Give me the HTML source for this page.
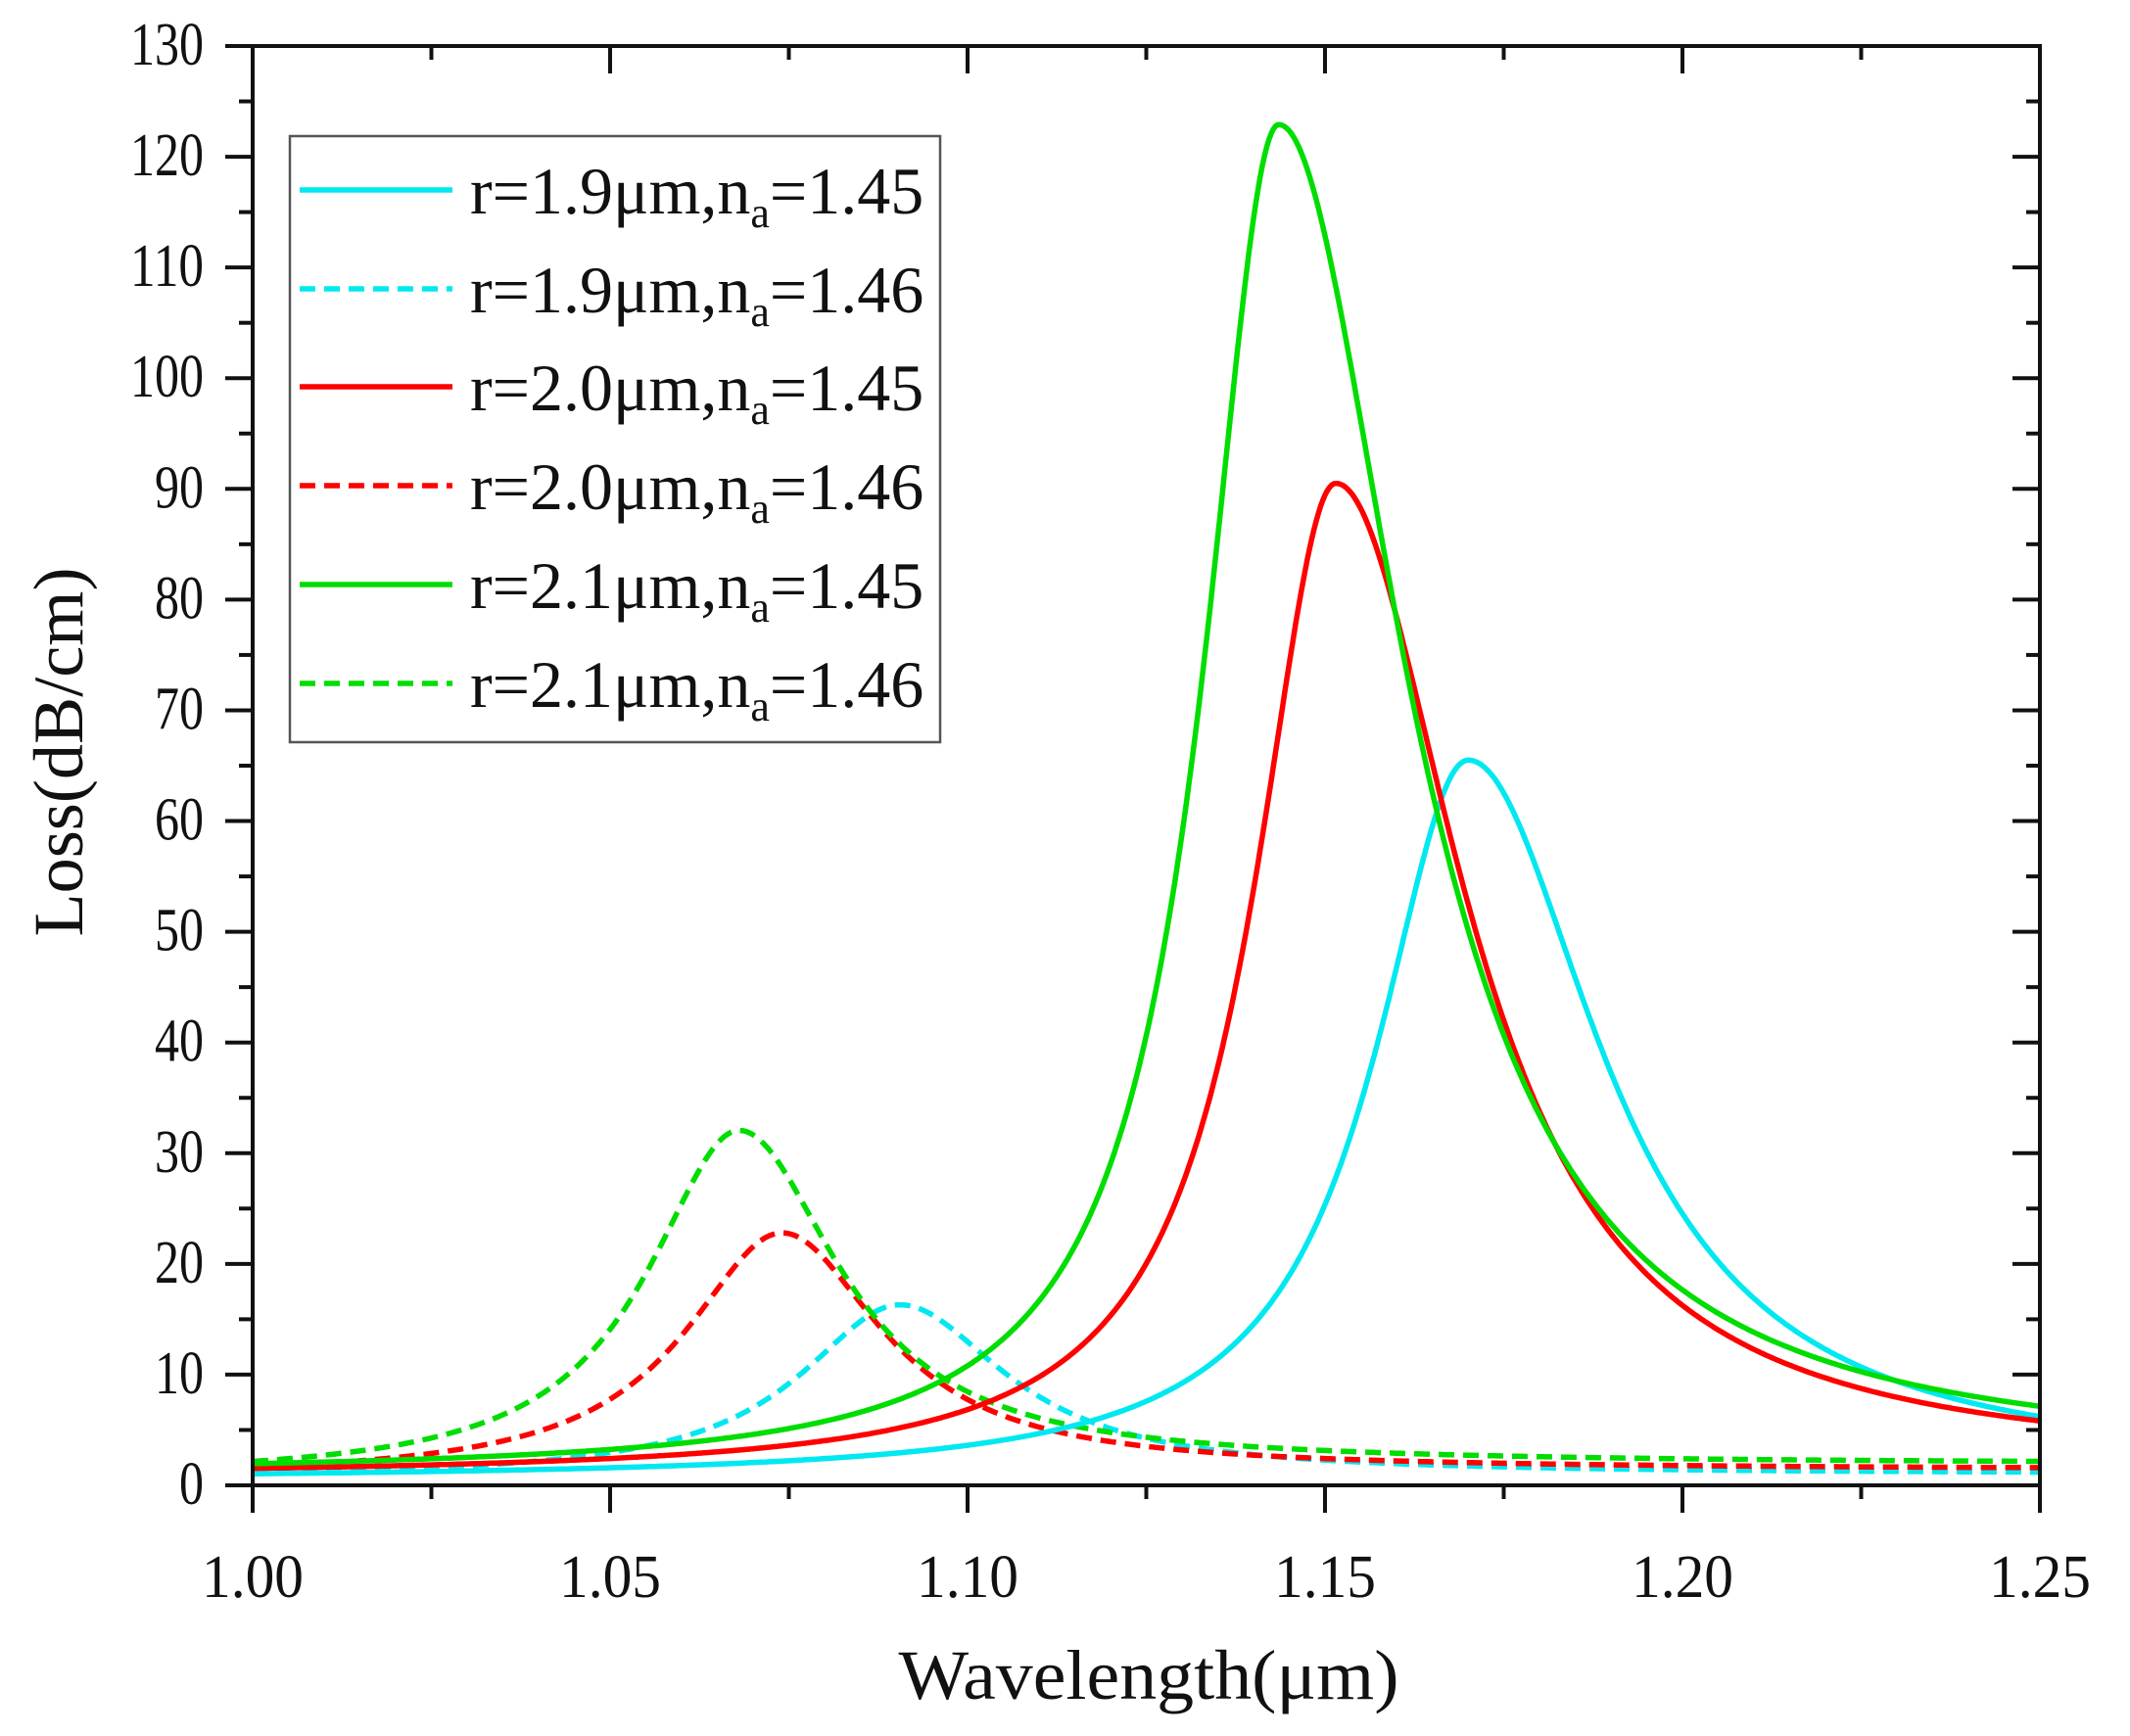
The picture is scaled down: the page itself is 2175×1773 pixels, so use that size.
<!DOCTYPE html>
<html><head><meta charset="utf-8"><style>
html,body{margin:0;padding:0;background:#fff}
svg{display:block}
text{font-family:"Liberation Serif",serif;fill:#111}
</style></head><body>
<svg id="s" width="2175" height="1773" viewBox="0 0 2175 1773" xmlns="http://www.w3.org/2000/svg">
<g id="curves" fill="none" stroke-width="5.5" stroke-linejoin="round"></g>
<g id="axes" stroke="#111" stroke-width="4" fill="none"></g>
<g id="labels"></g>
<rect x="296" y="139" width="664" height="619" fill="#fff" stroke="#555" stroke-width="2.5"/>
<g stroke-width="5.5">
<line x1="306" y1="194" x2="462" y2="194" stroke="#00e8f0"/>
<line x1="306" y1="295" x2="462" y2="295" stroke="#00e8f0" stroke-dasharray="16 9"/>
<line x1="306" y1="395" x2="462" y2="395" stroke="#ff0000"/>
<line x1="306" y1="496" x2="462" y2="496" stroke="#ff0000" stroke-dasharray="16 9"/>
<line x1="306" y1="597" x2="462" y2="597" stroke="#00dd00"/>
<line x1="306" y1="698" x2="462" y2="698" stroke="#00dd00" stroke-dasharray="16 9"/>
</g>
<g font-size="68">
<text x="480" y="218">r=1.9μm,n<tspan font-size="44" dy="14">a</tspan><tspan dy="-14">=1.45</tspan></text>
<text x="480" y="319">r=1.9μm,n<tspan font-size="44" dy="14">a</tspan><tspan dy="-14">=1.46</tspan></text>
<text x="480" y="419">r=2.0μm,n<tspan font-size="44" dy="14">a</tspan><tspan dy="-14">=1.45</tspan></text>
<text x="480" y="520">r=2.0μm,n<tspan font-size="44" dy="14">a</tspan><tspan dy="-14">=1.46</tspan></text>
<text x="480" y="621">r=2.1μm,n<tspan font-size="44" dy="14">a</tspan><tspan dy="-14">=1.45</tspan></text>
<text x="480" y="722">r=2.1μm,n<tspan font-size="44" dy="14">a</tspan><tspan dy="-14">=1.46</tspan></text>
</g>
<text x="1173" y="1735" font-size="72" text-anchor="middle" textLength="511" lengthAdjust="spacingAndGlyphs">Wavelength(μm)</text>
<text transform="translate(84,768) rotate(-90)" font-size="72" text-anchor="middle" textLength="377" lengthAdjust="spacingAndGlyphs">Loss(dB/cm)</text>
</svg>
<script>
var X0=258,X1=2083,Y0=1517,Y1=47;
function px(x){return X0+(x-1.0)/0.25*(X1-X0);}
function py(y){return Y0-y/130*(Y0-Y1);}
function L(x,s){var w=x<s.c?s.wl:s.wr;var sg=1/(1+Math.exp(-(x-s.c)/0.02));var b=s.bl+(s.br-s.bl)*sg;var t=(x-s.c)/w;return b+(s.A)/(1+t*t);}
var series=[
 {c:1.0905,A:15.5,wl:0.017,wr:0.018,bl:0.6,br:1.0,col:"#00e8f0",d:1},
 {c:1.074,A:21.8,wl:0.0165,wr:0.017,bl:0.6,br:1.4,col:"#ff0000",d:1},
 {c:1.068,A:30.8,wl:0.0155,wr:0.017,bl:0.6,br:1.9,col:"#00dd00",d:1},
 {c:1.170,A:64.5,wl:0.0157,wr:0.0225,bl:0.5,br:1.5,col:"#00e8f0",d:0},
 {c:1.1515,A:89.2,wl:0.0138,wr:0.0214,bl:0.8,br:1.8,col:"#ff0000",d:0},
 {c:1.1435,A:121.2,wl:0.0128,wr:0.0215,bl:1.0,br:2.4,col:"#00dd00",d:0}
];
var g=document.getElementById("curves"),NS="http://www.w3.org/2000/svg";
series.forEach(function(s){
 var d="";for(var i=0;i<=800;i++){var x=1+0.25*i/800;d+=(i?"L":"M")+px(x).toFixed(1)+","+py(L(x,s)).toFixed(1);}
 var p=document.createElementNS(NS,"path");p.setAttribute("d",d);p.setAttribute("stroke",s.col);
 if(s.d)p.setAttribute("stroke-dasharray","16 9");g.appendChild(p);
});
var a=document.getElementById("axes"),lb=document.getElementById("labels");
function ln(x1,y1,x2,y2){var l=document.createElementNS(NS,"line");l.setAttribute("x1",x1);l.setAttribute("y1",y1);l.setAttribute("x2",x2);l.setAttribute("y2",y2);a.appendChild(l);}
function tx(x,y,s,anc,len){var t=document.createElementNS(NS,"text");t.setAttribute("x",x);t.setAttribute("y",y);t.setAttribute("font-size","62");t.setAttribute("text-anchor",anc);t.setAttribute("textLength",len);t.setAttribute("lengthAdjust","spacingAndGlyphs");t.textContent=s;lb.appendChild(t);}
var r=document.createElementNS(NS,"rect");r.setAttribute("x",X0);r.setAttribute("y",Y1);r.setAttribute("width",X1-X0);r.setAttribute("height",Y0-Y1);a.appendChild(r);
for(var v=0;v<=130;v+=5){var y=py(v);var maj=v%10==0;var L1=maj?28:14;
 ln(X0-L1,y,X0,y);ln(X1-L1,y,X1,y);
 if(maj){var s=""+v;tx(X0-50,y+19,s,"end",s.length*25);}}
for(var k=0;k<=10;k++){var x=px(1+0.025*k);var maj=k%2==0;var L2=maj?28:14;
 ln(x,Y0,x,Y0+L2);ln(x,Y1,x,Y1+L2);
 if(maj){tx(x,1631,(1+0.025*k).toFixed(2),"middle",104);}}
</script>
</body></html>
